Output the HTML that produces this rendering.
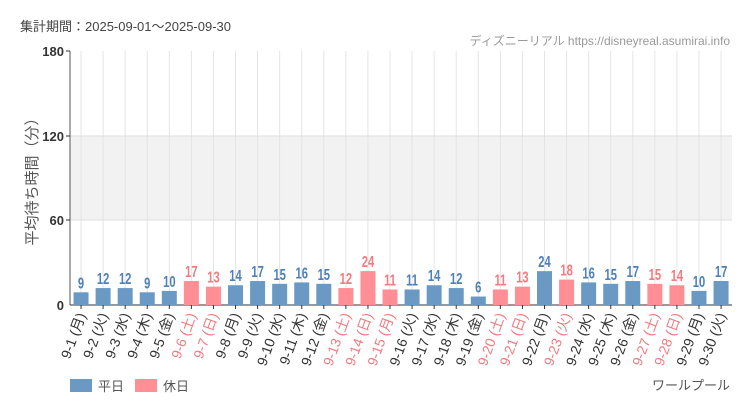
<!DOCTYPE html>
<html><head><meta charset="utf-8"><style>
body{margin:0;background:#fff;}
svg{display:block;font-family:"Liberation Sans","Noto Sans CJK JP",sans-serif;}
</style></head><body>
<svg width="750" height="410" xmlns="http://www.w3.org/2000/svg" id="s">
<text x="20" y="31" font-size="13" fill="#444">集計期間：2025-09-01～2025-09-30</text>
<text x="730" y="45" font-size="12" fill="#999" text-anchor="end">ディズニーリアル https://disneyreal.asumirai.info</text>
<rect x="70" y="136" width="662" height="84" fill="#f2f2f2"/>
<g id="grid"></g>
<line x1="70" y1="136" x2="732" y2="136" stroke="#ddd"/>
<line x1="70" y1="220" x2="732" y2="220" stroke="#ddd"/>
<line x1="70" y1="51" x2="70" y2="305" stroke="#555"/>
<line x1="70" y1="305" x2="732" y2="305" stroke="#333"/>
<g font-size="13" font-weight="bold" fill="#333" text-anchor="end">
<text x="64" y="56">180</text><line x1="66" y1="51" x2="70" y2="51" stroke="#333"/>
<text x="64" y="141">120</text><line x1="66" y1="136" x2="70" y2="136" stroke="#333"/>
<text x="64" y="225">60</text><line x1="66" y1="220" x2="70" y2="220" stroke="#333"/>
<text x="64" y="310">0</text>
</g>
<text transform="translate(37,178) rotate(-90)" font-size="15" fill="#555" text-anchor="middle">平均待ち時間（分）</text>
<g id="bars"></g>
<rect x="70" y="379" width="22" height="13" fill="#6a9ac4"/>
<text x="98" y="391" font-size="13" fill="#555">平日</text>
<rect x="135" y="379" width="22" height="13" fill="#ff8f94"/>
<text x="163" y="391" font-size="13" fill="#555">休日</text>
<text x="730" y="390" font-size="13" fill="#555" text-anchor="end">ワールプール</text>
</svg>
<script>
const d=[9,12,12,9,10,17,13,14,17,15,16,15,12,24,11,11,14,12,6,11,13,24,18,16,15,17,15,14,10,17];
const hol=[6,7,13,14,15,20,21,23,27,28];
const wd=["月","火","水","木","金","土","日"];
let g="",b="";
for(let i=0;i<30;i++){
 const cx=70+22.07*(i+0.5);
 g+=`<line x1="${cx}" y1="51" x2="${cx}" y2="305" stroke="#e4e4e4"/>`;
 const h=hol.includes(i+1);
 const v=d[i],hh=v*254/180,y=305-hh;
 b+=`<rect x="${cx-7.5}" y="${y}" width="15" height="${hh}" fill="${h?'#ff8f94':'#6a9ac4'}"/>`;
 b+=`<text transform="translate(${cx},${y-4}) scale(0.7,1)" text-anchor="middle" font-size="16" font-weight="bold" fill="${h?'#f07b80':'#4d80b8'}">${v}</text>`;
 b+=`<line x1="${cx}" y1="305" x2="${cx}" y2="309" stroke="#333"/>`;
 b+=`<text transform="translate(${cx+5},315) rotate(-70)" text-anchor="end" font-size="14" fill="${h?'#f07b80':'#333'}">9-${i+1} (${wd[i%7]})</text>`;
}
document.getElementById('grid').innerHTML=g;
document.getElementById('bars').innerHTML=b;
</script>
</body></html>
